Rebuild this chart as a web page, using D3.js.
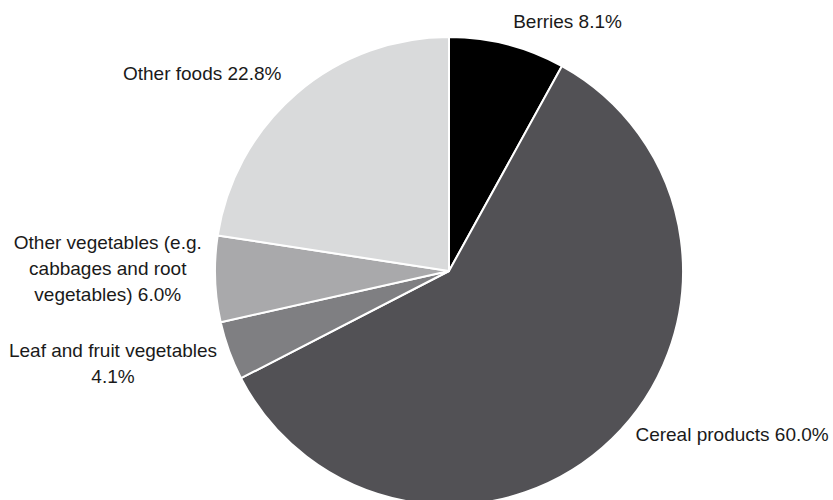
<!DOCTYPE html>
<html>
<head>
<meta charset="utf-8">
<script src="https://cdn.jsdelivr.net/npm/d3@7/dist/d3.min.js"></script>
<style>
  html, body { margin: 0; padding: 0; background: #fff; }
  svg { display: block; }
  text { font-family: "Liberation Sans", Arial, sans-serif; font-size: 19px; fill: #1a1a1a; }
</style>
</head>
<body>
<svg id="chart" width="833" height="500"></svg>
<script>
// Share of food groups (per cent), clockwise from 12 o'clock
const categories = [
  "Berries",
  "Cereal products",
  "Leaf and fruit vegetables",
  "Other vegetables (e.g. cabbages and root vegetables)",
  "Other foods"
];
const values = [8.1, 60.0, 4.1, 6.0, 22.8];
const labelLines = [
  ["Berries 8.1%"],
  ["Cereal products 60.0%"],
  ["Leaf and fruit vegetables", "4.1%"],
  ["Other vegetables (e.g.", "cabbages and root", "vegetables) 6.0%"],
  ["Other foods 22.8%"]
];
const colors = ["#000000", "#525155", "#7f7f82", "#a9a9ab", "#d9dadb"];

const width = 833, height = 500;
const cx = 449, cy = 271, radius = 234;
// small nudges for label blocks so they don't crowd the rim
const labelNudge = [[0, 0], [7, -21], [10, 4], [10, -11], [0, -2]];

const svg = d3.select("#chart");
const g = svg.append("g").attr("transform", `translate(${cx},${cy})`);

const data = categories.map((c, i) => ({ name: c, value: values[i], lines: labelLines[i], color: colors[i], nudge: labelNudge[i] }));

const pie = d3.pie().value(d => d.value).sort(null);
const arc = d3.arc().innerRadius(0).outerRadius(radius);
const arcs = pie(data);

g.selectAll("path.slice")
  .data(arcs)
  .join("path")
  .attr("class", "slice")
  .attr("d", arc)
  .attr("fill", d => d.data.color)
  .attr("stroke", "#fff")
  .attr("stroke-width", 2)
  .attr("stroke-linejoin", "round");

// Labels sit just outside the rim on each slice's mid-angle
const labelArc = d3.arc().innerRadius(radius * 1.1).outerRadius(radius * 1.1);
const lineHeight = 26;

arcs.forEach(d => {
  let [lx, ly] = labelArc.centroid(d);
  lx += d.data.nudge[0];
  ly += d.data.nudge[1];
  const mid = (d.startAngle + d.endAngle) / 2;
  const rightSide = mid < Math.PI;
  const n = d.data.lines.length;
  const t = g.append("text").attr("text-anchor", "middle");
  const tspans = d.data.lines.map(s => t.append("tspan").text(s));
  // block width = widest line; lines centred within the block
  const w = d3.max(tspans, ts => ts.node().getComputedTextLength());
  const bx = rightSide ? lx + w / 2 : lx - w / 2;
  tspans.forEach((ts, i) => {
    ts.attr("x", bx)
      .attr("y", ly + (i - (n - 1) / 2) * lineHeight)
      .attr("dy", "0.35em");
  });
});
</script>
</body>
</html>
